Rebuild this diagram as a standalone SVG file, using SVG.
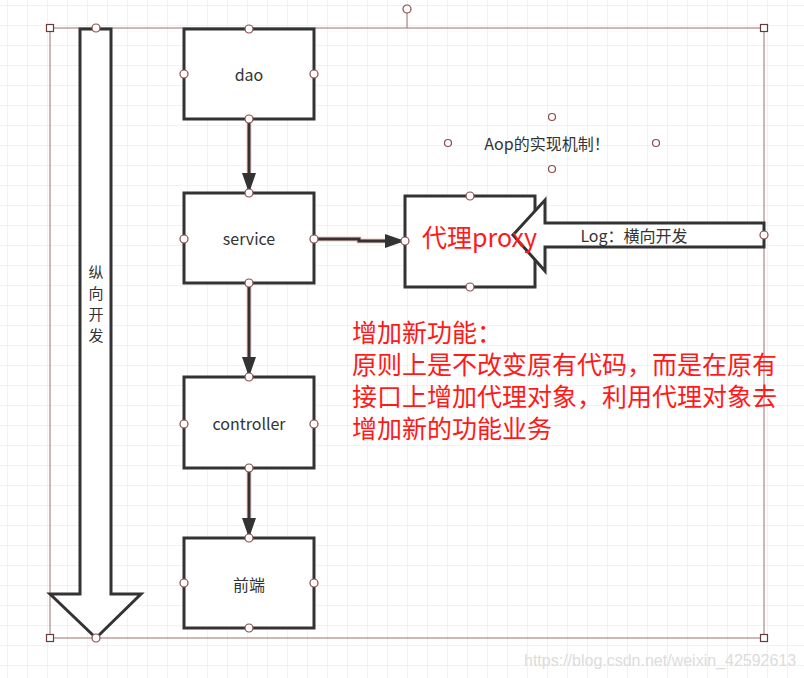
<svg xmlns="http://www.w3.org/2000/svg" width="804" height="678" viewBox="0 0 804 678">
<defs>
<pattern id="grid" x="7" y="5" width="20" height="20" patternUnits="userSpaceOnUse">
<path d="M0,0 H20 M0,0 V20" fill="none" stroke="#e6e6e6" stroke-width="1"/>
</pattern>
<marker id="ah" viewBox="0 0 20 14" refX="20" refY="7" markerWidth="20" markerHeight="14" markerUnits="userSpaceOnUse" orient="auto">
<path d="M0,0 L20,7 L0,14 Z" fill="#333"/>
</marker>
<style>
.box{fill:#fff;stroke:#333;stroke-width:3}
.lbl{font-family:"Microsoft YaHei","Noto Sans CJK SC","Noto Sans",sans-serif;font-size:16px;fill:#333;text-anchor:middle}
.vt{font-family:"Microsoft YaHei","Noto Sans CJK SC",sans-serif;font-size:15px;fill:#333;text-anchor:middle}
.red{font-family:"Microsoft YaHei","Noto Sans CJK SC",sans-serif;fill:#ff1a1a}
.h{fill:#fff;stroke:#8b4a4a;stroke-width:1.2}
.sq{fill:#fff;stroke:#6b3a3a;stroke-width:1.2}
.sel{fill:none;stroke:#9b7070;stroke-width:1}
.con{fill:none;stroke:#333;stroke-width:3}
.glow{fill:none;stroke:#f3c8c8;stroke-width:5}
</style>
</defs>
<rect width="804" height="678" fill="#fff"/>
<rect width="804" height="678" fill="url(#grid)"/>

<g id="selection">
<rect class="sel" x="50" y="28" width="714" height="610"/>
<line class="sel" x1="407" y1="13" x2="407" y2="28"/>
<circle class="h" cx="407" cy="9" r="4"/>
<rect class="sq" x="46.5" y="24.5" width="7" height="7"/>
<rect class="sq" x="760.5" y="24.5" width="7" height="7"/>
<rect class="sq" x="46.5" y="634.5" width="7" height="7"/>
<rect class="sq" x="760.5" y="634.5" width="7" height="7"/>
</g>

<g id="vertical-arrow">
<path class="box" d="M80,29 L111,29 L111,594 L141,594 L96,638 L50,594 L80,594 Z"/>
<text class="vt" x="96" y="278">纵</text>
<text class="vt" x="96" y="299">向</text>
<text class="vt" x="96" y="320">开</text>
<text class="vt" x="96" y="341">发</text>
<circle class="h" cx="96" cy="28" r="4"/>
<circle class="h" cx="96" cy="638" r="4"/>
</g>

<g id="connectors">
<path class="glow" d="M249,119 V180 M249,283 V365 M249,468 V525 M314,239 H359 V241 H395"/>
<path class="con" d="M249,119 V193" marker-end="url(#ah)"/>
<path class="con" d="M249,283 V377" marker-end="url(#ah)"/>
<path class="con" d="M249,468 V538" marker-end="url(#ah)"/>
<path class="con" d="M314,239 H359 V241 H405" marker-end="url(#ah)"/>
</g>

<g id="dao">
<rect class="box" x="184" y="29" width="130" height="90"/>
<text class="lbl" x="249" y="81">dao</text>
<circle class="h" cx="249" cy="29" r="4"/><circle class="h" cx="184" cy="74" r="4"/><circle class="h" cx="314" cy="74" r="4"/><circle class="h" cx="249" cy="119" r="4"/>
</g>

<g id="service">
<rect class="box" x="184" y="193" width="130" height="90"/>
<text class="lbl" x="249" y="245">service</text>
<circle class="h" cx="249" cy="193" r="4"/><circle class="h" cx="184" cy="239" r="4"/><circle class="h" cx="314" cy="239" r="4"/><circle class="h" cx="249" cy="283" r="4"/>
</g>

<g id="controller">
<rect class="box" x="184" y="377" width="130" height="91"/>
<text class="lbl" x="249" y="430">controller</text>
<circle class="h" cx="249" cy="377" r="4"/><circle class="h" cx="184" cy="424" r="4"/><circle class="h" cx="314" cy="424" r="4"/><circle class="h" cx="249" cy="468" r="4"/>
</g>

<g id="frontend">
<rect class="box" x="184" y="538" width="130" height="90"/>
<text class="lbl" x="249" y="591">前端</text>
<circle class="h" cx="249" cy="538" r="4"/><circle class="h" cx="184" cy="583" r="4"/><circle class="h" cx="314" cy="583" r="4"/><circle class="h" cx="249" cy="628" r="4"/>
</g>

<g id="aop-label">
<text class="lbl" x="547" y="150">Aop的实现机制！</text>
<circle class="h" cx="552" cy="117" r="3.5"/><circle class="h" cx="448" cy="143" r="3.5"/><circle class="h" cx="656" cy="143" r="3.5"/><circle class="h" cx="552" cy="169" r="3.5"/>
</g>

<g id="proxy">
<rect class="box" x="405" y="196" width="130" height="91"/>
<circle class="h" cx="470" cy="196" r="4"/><circle class="h" cx="405" cy="241" r="4"/><circle class="h" cx="470" cy="287" r="4"/><circle class="h" cx="535" cy="241" r="4"/>
</g>

<g id="log-arrow">
<path class="box" d="M764,223 L545,223 L545,200 L513,235 L545,271 L545,247 L764,247 Z"/>
<text class="lbl" x="634" y="242">Log：横向开发</text>
<circle class="h" cx="764" cy="235" r="4"/>
</g>

<g id="proxy-label">
<text class="red" x="422" y="247" font-size="25">代理proxy</text>
</g>

<g id="note">
<text class="red" font-size="25">
<tspan x="352" y="342">增加新功能：</tspan>
<tspan x="352" y="374">原则上是不改变原有代码，而是在原有</tspan>
<tspan x="352" y="406">接口上增加代理对象，利用代理对象去</tspan>
<tspan x="352" y="438">增加新的功能业务</tspan>
</text>
</g>

<g id="watermark">
<text x="524" y="666" font-family="Liberation Sans, Arial, sans-serif" font-size="16" fill="#dcdcdc">https://blog.csdn.net/weixin_42592613</text>
</g>
</svg>
